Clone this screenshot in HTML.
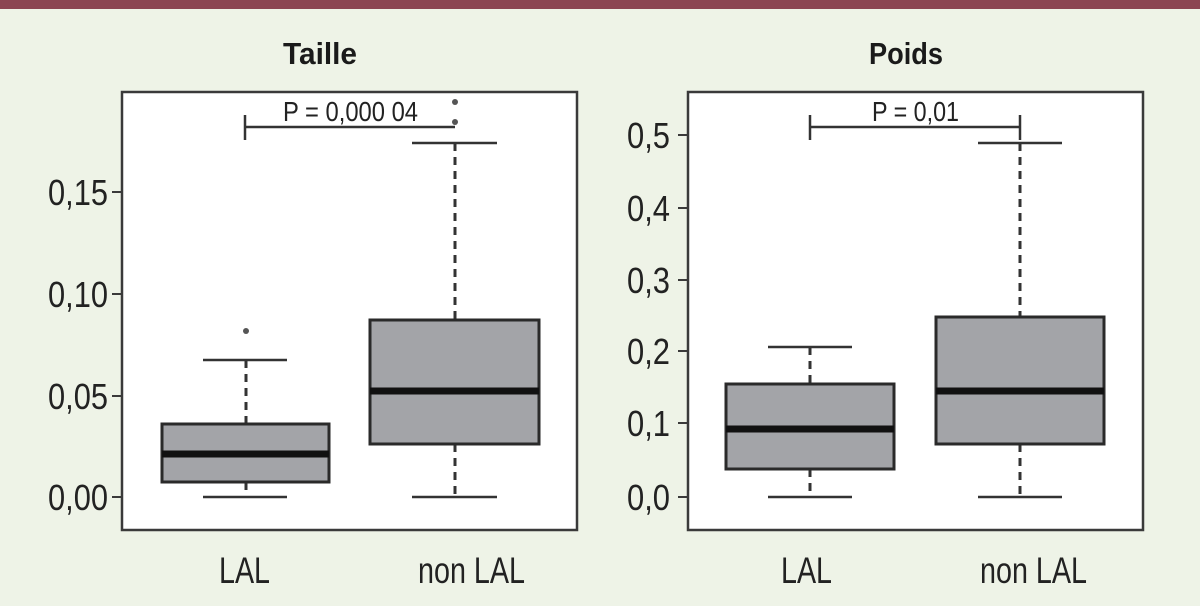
<!DOCTYPE html>
<html><head><meta charset="utf-8"><style>
html,body{margin:0;padding:0;width:1200px;height:606px;overflow:hidden;background:#eef3e7;}
svg{display:block;font-family:"Liberation Sans",sans-serif;}
</style></head><body>
<svg width="1200" height="606" viewBox="0 0 1200 606">
<rect x="0" y="0" width="1200" height="606" fill="#eef3e7"/>
<rect x="0" y="0" width="1200" height="9" fill="#8c4552"/>
<g fill="#1a1a1a" font-size="31" font-weight="bold" lengthAdjust="spacingAndGlyphs">
<text x="283" y="64" textLength="74" lengthAdjust="spacingAndGlyphs">Taille</text>
<text x="869" y="64" textLength="74" lengthAdjust="spacingAndGlyphs">Poids</text></g>

<!-- LEFT -->
<rect x="122" y="92" width="455" height="438" fill="#fff" stroke="#3a3a3a" stroke-width="2.5"/>
<g stroke="#3a3a3a" stroke-width="2">
<line x1="112" y1="497" x2="122" y2="497"/><line x1="112" y1="396" x2="122" y2="396"/>
<line x1="112" y1="294" x2="122" y2="294"/><line x1="112" y1="192" x2="122" y2="192"/></g>
<g font-size="36" fill="#222">
<text x="48" y="510" textLength="60" lengthAdjust="spacingAndGlyphs">0,00</text>
<text x="48" y="409" textLength="60" lengthAdjust="spacingAndGlyphs">0,05</text>
<text x="48" y="307" textLength="60" lengthAdjust="spacingAndGlyphs">0,10</text>
<text x="48" y="205" textLength="60" lengthAdjust="spacingAndGlyphs">0,15</text></g>
<g stroke="#333" stroke-width="3" stroke-dasharray="8,6">
<line x1="246" y1="482" x2="246" y2="497"/><line x1="246" y1="360" x2="246" y2="424"/>
<line x1="455" y1="444" x2="455" y2="497"/><line x1="455" y1="143" x2="455" y2="320"/></g>
<g stroke="#333" stroke-width="2.5">
<line x1="203" y1="497" x2="287" y2="497"/><line x1="203" y1="360" x2="287" y2="360"/>
<line x1="412" y1="497" x2="497" y2="497"/><line x1="412" y1="143" x2="497" y2="143"/></g>
<rect x="162" y="424" width="167" height="58" fill="#a3a4a8" stroke="#2a2a2a" stroke-width="3"/>
<line x1="162" y1="454" x2="329" y2="454" stroke="#111" stroke-width="7"/>
<rect x="370" y="320" width="169" height="124" fill="#a3a4a8" stroke="#2a2a2a" stroke-width="3"/>
<line x1="370" y1="391" x2="539" y2="391" stroke="#111" stroke-width="7"/>
<g fill="#555"><circle cx="246" cy="331" r="3"/><circle cx="455" cy="122" r="3"/><circle cx="455" cy="102" r="3"/></g>
<g stroke="#333" stroke-width="2.5"><line x1="245" y1="127" x2="455" y2="127"/><line x1="245" y1="115" x2="245" y2="140"/></g>
<text x="283" y="121" font-size="28" fill="#222" textLength="135" lengthAdjust="spacingAndGlyphs">P = 0,000 04</text>
<g font-size="37" fill="#222">
<text x="219" y="583" textLength="51" lengthAdjust="spacingAndGlyphs">LAL</text>
<text x="418" y="583" textLength="107" lengthAdjust="spacingAndGlyphs">non LAL</text></g>

<!-- RIGHT -->
<rect x="688" y="92" width="455" height="438" fill="#fff" stroke="#3a3a3a" stroke-width="2.5"/>
<g stroke="#3a3a3a" stroke-width="2">
<line x1="678" y1="497" x2="688" y2="497"/><line x1="678" y1="423" x2="688" y2="423"/>
<line x1="678" y1="351" x2="688" y2="351"/><line x1="678" y1="280" x2="688" y2="280"/>
<line x1="678" y1="208" x2="688" y2="208"/><line x1="678" y1="135" x2="688" y2="135"/></g>
<g font-size="36" fill="#222">
<text x="627" y="510" textLength="43" lengthAdjust="spacingAndGlyphs">0,0</text>
<text x="627" y="436" textLength="43" lengthAdjust="spacingAndGlyphs">0,1</text>
<text x="627" y="364" textLength="43" lengthAdjust="spacingAndGlyphs">0,2</text>
<text x="627" y="293" textLength="43" lengthAdjust="spacingAndGlyphs">0,3</text>
<text x="627" y="221" textLength="43" lengthAdjust="spacingAndGlyphs">0,4</text>
<text x="627" y="148" textLength="43" lengthAdjust="spacingAndGlyphs">0,5</text></g>
<g stroke="#333" stroke-width="3" stroke-dasharray="8,6">
<line x1="810" y1="469" x2="810" y2="497"/><line x1="810" y1="347" x2="810" y2="384"/>
<line x1="1020" y1="444" x2="1020" y2="497"/><line x1="1020" y1="143" x2="1020" y2="317"/></g>
<g stroke="#333" stroke-width="2.5">
<line x1="768" y1="497" x2="852" y2="497"/><line x1="768" y1="347" x2="852" y2="347"/>
<line x1="978" y1="497" x2="1062" y2="497"/><line x1="978" y1="143" x2="1062" y2="143"/></g>
<rect x="726" y="384" width="168" height="85" fill="#a3a4a8" stroke="#2a2a2a" stroke-width="3"/>
<line x1="726" y1="429" x2="894" y2="429" stroke="#111" stroke-width="7"/>
<rect x="936" y="317" width="168" height="127" fill="#a3a4a8" stroke="#2a2a2a" stroke-width="3"/>
<line x1="936" y1="391" x2="1104" y2="391" stroke="#111" stroke-width="7"/>
<g stroke="#333" stroke-width="2.5"><line x1="810" y1="127" x2="1020" y2="127"/><line x1="810" y1="115" x2="810" y2="140"/><line x1="1020" y1="115" x2="1020" y2="140"/></g>
<text x="872" y="121" font-size="28" fill="#222" textLength="87" lengthAdjust="spacingAndGlyphs">P = 0,01</text>
<g font-size="37" fill="#222">
<text x="781" y="583" textLength="51" lengthAdjust="spacingAndGlyphs">LAL</text>
<text x="980" y="583" textLength="107" lengthAdjust="spacingAndGlyphs">non LAL</text></g>
</svg>
</body></html>
